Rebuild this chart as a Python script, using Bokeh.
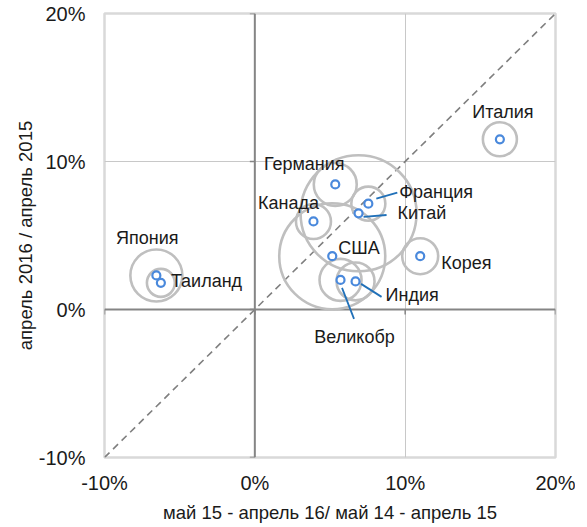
from bokeh.plotting import figure
from bokeh.models import (ColumnDataSource, FixedTicker, PrintfTickFormatter, Span, Slope)
from bokeh.core.properties import value
from bokeh.embed import file_html
from bokeh.resources import INLINE
import numpy as np

# ---- data ----
countries = ["Италия", "Германия", "Франция", "Китай", "Канада", "США",
             "Корея", "Япония", "Таиланд", "Индия", "Великобр"]
x_growth = [16.3, 5.35, 7.55, 6.9, 3.9, 5.15, 11.0, -6.55, -6.25, 6.7, 5.7]
y_growth = [11.5, 8.45, 7.15, 6.5, 5.95, 3.6, 3.6, 2.3, 1.8, 1.9, 2.0]
bubble = [8.6, 13.7, 8.6, 100.0, 9.1, 83.5, 9.6, 20.1, 5.8, 10.7, 13.1]

x_ticks = [-10, 0, 10, 20]
y_ticks = [-10, 0, 10, 20]
x_title = "май 15 - апрель 16/ май 14 - апрель 15"
y_title = "апрель 2016 / апрель 2015"

# ---- label placement (screen px, down positive) ----
lab_dx = [3, -31, 31, 39, -25, 6, 21, -9, 10, 30, 14]
lab_dy = [-27, -20, -12, 0, -18, -8, 7, -37, -2, 14, 57]
lab_align = ["center", "center", "left", "left", "center", "left",
             "left", "center", "left", "left", "center"]
# leader lines: start offset, end offset (screen px, down positive)
leaders = {
    "Франция": ((8, -5), (29, -11)),
    "Китай": ((5, 3.5), (28, 1.7)),
    "Индия": ((5.5, 2.5), (26, 15.5)),
    "Великобр": ((1.5, 8), (13.5, 39)),
}

FW, FH = 451, 444
XR, YR = (-10, 20), (-10, 20)
px_x = FW / (XR[1] - XR[0])
px_y = FH / (YR[1] - YR[0])

FONT = "Liberation Sans"

p = figure(width=575, height=525, frame_width=FW, frame_height=FH,
           x_range=XR, y_range=YR, output_backend="svg",
           toolbar_location=None, min_border_left=104, min_border_right=20,
           min_border_top=13, min_border_bottom=68)
p.background_fill_color = "white"
p.border_fill_color = "white"
p.outline_line_color = "#D9D9D9"
p.outline_line_width = 2.5

for ax, ticks in ((p.xaxis[0], x_ticks), (p.yaxis[0], y_ticks)):
    ax.ticker = FixedTicker(ticks=ticks)
    ax.formatter = PrintfTickFormatter(format="%d%%")
    ax.axis_line_color = None
    ax.major_tick_line_color = None
    ax.minor_tick_line_color = None
    ax.major_tick_out = 0
    ax.major_tick_in = 0
    ax.major_label_text_font = FONT
    ax.major_label_text_font_size = "20px"
    ax.major_label_text_color = "#1a1a1a"
    ax.axis_label_text_font = FONT
    ax.axis_label_text_font_size = "18.5px"
    ax.axis_label_text_font_style = "normal"
    ax.axis_label_text_color = "#1a1a1a"

p.xaxis.axis_label = x_title
p.yaxis.axis_label = y_title
p.xaxis.major_label_standoff = 14
p.xaxis.axis_label_standoff = 5
p.yaxis.major_label_standoff = 19
p.yaxis.axis_label_standoff = 0

p.xgrid.ticker = FixedTicker(ticks=x_ticks)
p.ygrid.ticker = FixedTicker(ticks=y_ticks)
p.grid.grid_line_color = "#C8C8C8"
p.grid.grid_line_width = 1

# zero axes
p.add_layout(Span(location=0, dimension="height", line_color="#858585",
                  line_width=2, level="underlay"))
p.add_layout(Span(location=0, dimension="width", line_color="#858585",
                  line_width=2, level="underlay"))
# small axis ticks on the crossing axes
tick_len = 5
p.segment(x0=x_ticks, y0=[0] * len(x_ticks), x1=x_ticks,
          y1=[-tick_len / px_y] * len(x_ticks), line_color="#858585", line_width=1.5)
p.segment(x0=[0] * len(y_ticks), y0=y_ticks, x1=[-tick_len / px_x] * len(y_ticks),
          y1=y_ticks, line_color="#858585", line_width=1.5)

# diagonal y = x
p.add_layout(Slope(gradient=1, y_intercept=0, line_color="#7F7F7F",
                   line_width=1.6, line_dash="7 5", level="underlay"))

src = ColumnDataSource(dict(
    x=x_growth, y=y_growth, name=countries,
    size=[11.6 * np.sqrt(b) for b in bubble],
    dx=lab_dx, dy=lab_dy, align=lab_align,
))

p.scatter("x", "y", size="size", source=src, marker="circle", fill_color=None,
          line_color="#BFBFBF", line_width=2.6)
p.scatter("x", "y", size=8, source=src, marker="circle", fill_color="white",
          line_color="#4A89DC", line_width=2.2)

# leader lines
x0, y0, x1, y1 = [], [], [], []
for name, (s, e) in leaders.items():
    i = countries.index(name)
    x0.append(x_growth[i] + s[0] / px_x)
    y0.append(y_growth[i] - s[1] / px_y)
    x1.append(x_growth[i] + e[0] / px_x)
    y1.append(y_growth[i] - e[1] / px_y)
p.segment(x0=x0, y0=y0, x1=x1, y1=y1, line_color="#2070B8", line_width=1.8)

p.text("x", "y", text="name", source=src, x_offset="dx", y_offset="dy",
       text_align="align", text_baseline="middle", text_font=value(FONT),
       text_font_size="18px", text_color="#1a1a1a")

open("out.html", "w").write(file_html(p, INLINE))
